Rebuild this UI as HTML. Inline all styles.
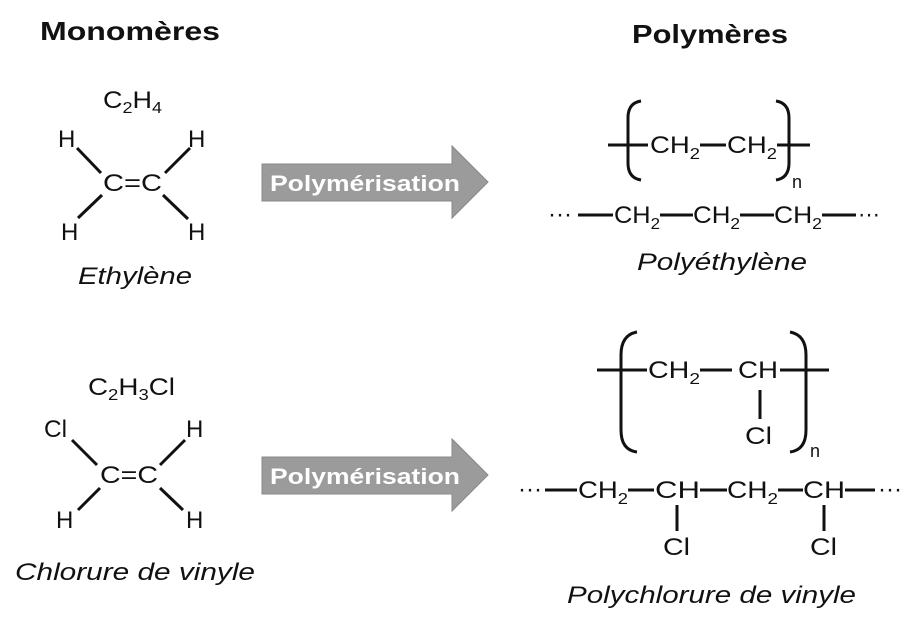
<!DOCTYPE html>
<html><head><meta charset="utf-8"><style>
html,body{margin:0;padding:0;background:#fff;}
svg{display:block;}
text{font-family:"Liberation Sans",sans-serif;fill:#111;}
.b{font-weight:bold;}
.i{font-style:italic;}
</style></head><body>
<svg width="923" height="628" viewBox="0 0 923 628" xmlns="http://www.w3.org/2000/svg">
<g stroke="#111" stroke-width="3" fill="none" stroke-linecap="butt">
<line x1="77" y1="148" x2="101" y2="173"/>
<line x1="190" y1="148" x2="165" y2="173"/>
<line x1="78" y1="218" x2="102" y2="195"/>
<line x1="163" y1="195" x2="188" y2="219"/>
<line x1="72" y1="440" x2="97" y2="465"/>
<line x1="185" y1="440" x2="160" y2="465"/>
<line x1="78" y1="510" x2="100" y2="488"/>
<line x1="160" y1="488" x2="183" y2="510"/>
<path d="M641 101 Q628 103 628 118 L628 163 Q628 178 641 180"/>
<path d="M776 101 Q789 103 789 118 L789 163 Q789 178 776 180"/>
<line x1="608" y1="145" x2="648" y2="145"/>
<line x1="700" y1="145" x2="726" y2="145"/>
<line x1="777" y1="145" x2="810" y2="145"/>
<line x1="578" y1="215" x2="613" y2="215"/>
<line x1="660" y1="215" x2="693" y2="215"/>
<line x1="740" y1="215" x2="774" y2="215"/>
<line x1="822" y1="215" x2="856" y2="215"/>
<path d="M637 332 Q621 335 621 355 L621 430 Q621 450 637 452"/>
<path d="M790 332 Q806 335 806 355 L806 430 Q806 450 790 452"/>
<line x1="597" y1="370" x2="647" y2="370"/>
<line x1="700" y1="370" x2="732" y2="370"/>
<line x1="780" y1="370" x2="829" y2="370"/>
<line x1="760" y1="390" x2="760" y2="419"/>
<line x1="545" y1="490" x2="577" y2="490"/>
<line x1="628" y1="490" x2="654" y2="490"/>
<line x1="700" y1="490" x2="727" y2="490"/>
<line x1="778" y1="490" x2="803" y2="490"/>
<line x1="845" y1="490" x2="875" y2="490"/>
<line x1="677" y1="505" x2="677" y2="531"/>
<line x1="824" y1="505" x2="824" y2="531"/>
</g>
<path d="M262 164 L452 164 L452 146 L488 182 L452 218 L452 201 L262 201 Z" fill="#9b9b9b" stroke="#888" stroke-width="1"/>
<path d="M262 457 L452 457 L452 439 L488 475 L452 511 L452 494 L262 494 Z" fill="#9b9b9b" stroke="#888" stroke-width="1"/>
<text x="270" y="191" font-size="22" class="b" textLength="190" lengthAdjust="spacingAndGlyphs" style="fill:#fff">Polymérisation</text>
<text x="270" y="484" font-size="22" class="b" textLength="190" lengthAdjust="spacingAndGlyphs" style="fill:#fff">Polymérisation</text>

<text x="40" y="40" font-size="26" class="b" textLength="180" lengthAdjust="spacingAndGlyphs">Monomères</text>
<text x="632" y="43" font-size="26" class="b" textLength="156" lengthAdjust="spacingAndGlyphs">Polymères</text>

<g font-size="24">
<text x="103" y="108" textLength="59" lengthAdjust="spacingAndGlyphs">C<tspan font-size="16" dy="5">2</tspan><tspan dy="-5">H</tspan><tspan font-size="16" dy="5">4</tspan></text>
<text x="58" y="147">H</text>
<text x="188" y="147">H</text>
<text x="103" y="191" textLength="59" lengthAdjust="spacingAndGlyphs">C=C</text>
<text x="61" y="240">H</text>
<text x="188" y="240">H</text>
<text x="78" y="284" class="i" textLength="114" lengthAdjust="spacingAndGlyphs">Ethylène</text>
<text x="88" y="395" textLength="87" lengthAdjust="spacingAndGlyphs">C<tspan font-size="16" dy="5">2</tspan><tspan dy="-5">H</tspan><tspan font-size="16" dy="5">3</tspan><tspan dy="-5">Cl</tspan></text>
<text x="44" y="437" textLength="23" lengthAdjust="spacingAndGlyphs">Cl</text>
<text x="186" y="437">H</text>
<text x="100" y="483" textLength="58" lengthAdjust="spacingAndGlyphs">C=C</text>
<text x="56" y="528">H</text>
<text x="186" y="528">H</text>
<text x="15" y="580" class="i" textLength="240" lengthAdjust="spacingAndGlyphs">Chlorure de vinyle</text>
<text x="650" y="153" textLength="50" lengthAdjust="spacingAndGlyphs">CH<tspan font-size="16" dy="6">2</tspan></text>
<text x="727" y="153" textLength="50" lengthAdjust="spacingAndGlyphs">CH<tspan font-size="16" dy="6">2</tspan></text>
<text x="792" y="188" font-size="18">n</text>
<text x="548" y="222" textLength="24" lengthAdjust="spacingAndGlyphs">···</text>
<text x="614" y="223" textLength="46" lengthAdjust="spacingAndGlyphs">CH<tspan font-size="16" dy="6">2</tspan></text>
<text x="693" y="223" textLength="47" lengthAdjust="spacingAndGlyphs">CH<tspan font-size="16" dy="6">2</tspan></text>
<text x="774" y="223" textLength="48" lengthAdjust="spacingAndGlyphs">CH<tspan font-size="16" dy="6">2</tspan></text>
<text x="858" y="222" textLength="22" lengthAdjust="spacingAndGlyphs">···</text>
<text x="637" y="270" class="i" textLength="170" lengthAdjust="spacingAndGlyphs">Polyéthylène</text>
<text x="648" y="378" textLength="52" lengthAdjust="spacingAndGlyphs">CH<tspan font-size="16" dy="6">2</tspan></text>
<text x="738" y="378" textLength="40" lengthAdjust="spacingAndGlyphs">CH</text>
<text x="745" y="444" textLength="27" lengthAdjust="spacingAndGlyphs">Cl</text>
<text x="810" y="457" font-size="18">n</text>
<text x="518" y="497" textLength="24" lengthAdjust="spacingAndGlyphs">···</text>
<text x="578" y="498" textLength="50" lengthAdjust="spacingAndGlyphs">CH<tspan font-size="16" dy="6">2</tspan></text>
<text x="655" y="498" textLength="45" lengthAdjust="spacingAndGlyphs">CH</text>
<text x="727" y="498" textLength="51" lengthAdjust="spacingAndGlyphs">CH<tspan font-size="16" dy="6">2</tspan></text>
<text x="803" y="498" textLength="42" lengthAdjust="spacingAndGlyphs">CH</text>
<text x="878" y="497" textLength="24" lengthAdjust="spacingAndGlyphs">···</text>
<text x="663" y="555" textLength="27" lengthAdjust="spacingAndGlyphs">Cl</text>
<text x="810" y="555" textLength="27" lengthAdjust="spacingAndGlyphs">Cl</text>
<text x="567" y="603" class="i" textLength="289" lengthAdjust="spacingAndGlyphs">Polychlorure de vinyle</text>
</g>
</svg>
</body></html>
